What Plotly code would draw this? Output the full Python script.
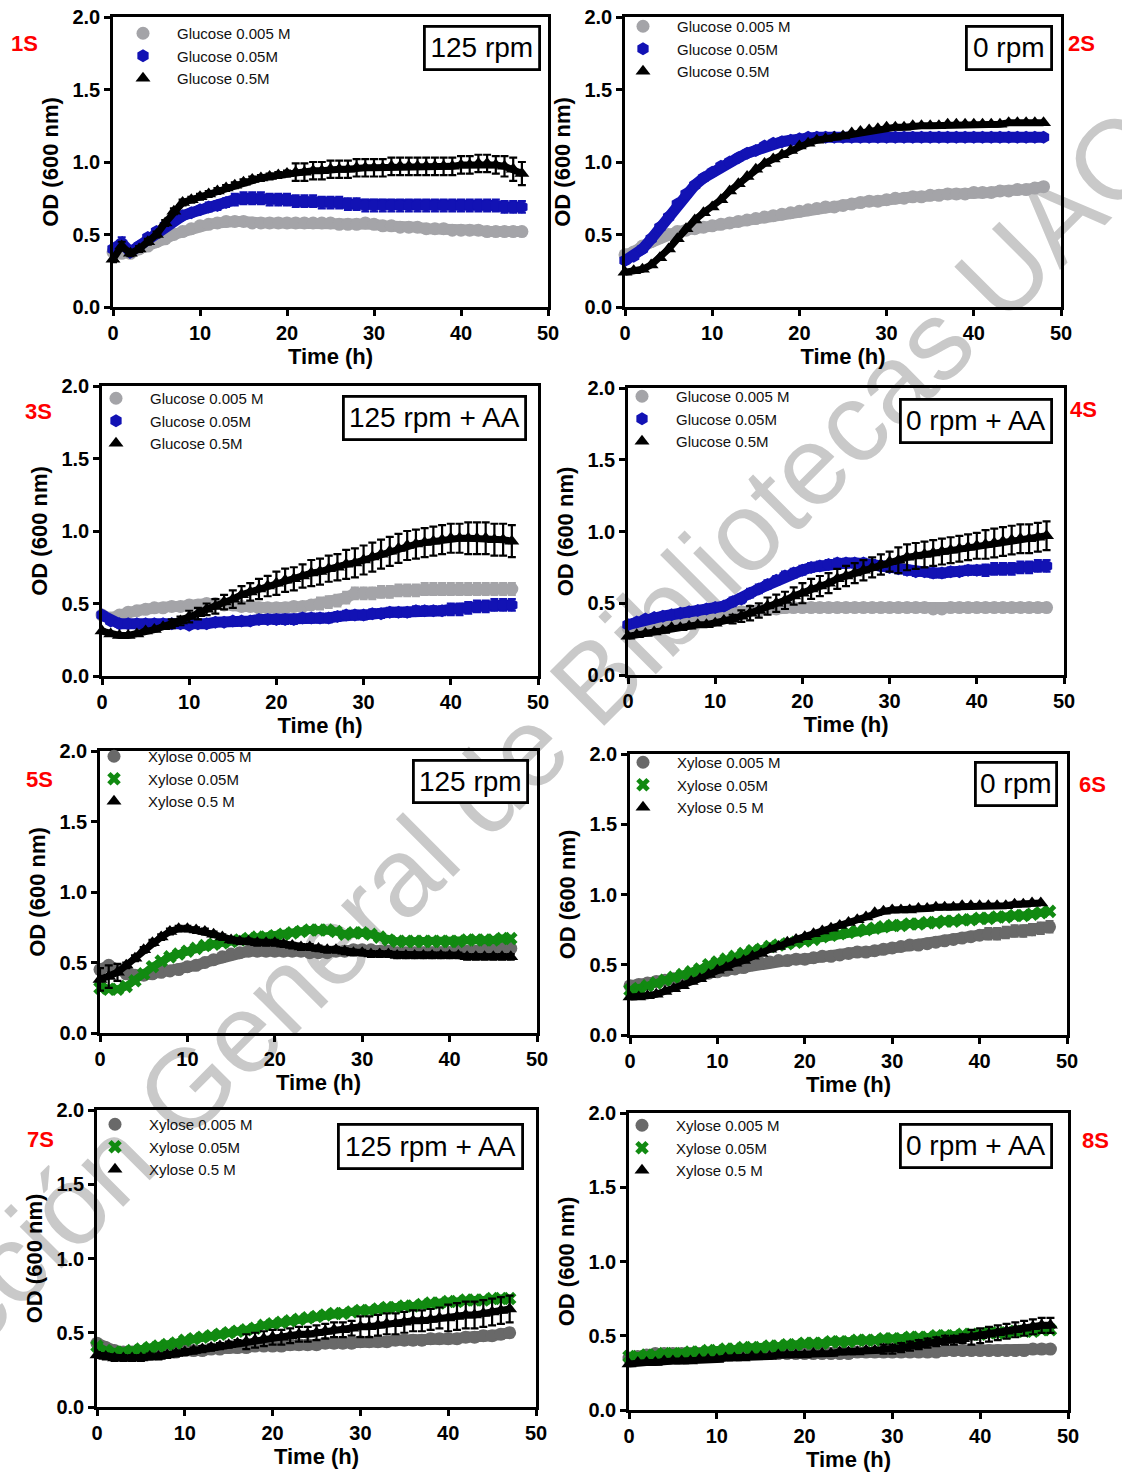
import plotly.graph_objects as go

# ---------------- data ----------------
TIME_L = [0, 1, 2, 3, 4, 5, 6, 7, 8, 9, 10, 11, 12, 13, 14, 15, 16, 17, 18, 19, 20, 21, 22, 23,
          24, 25, 26, 27, 28, 29, 30, 31, 32, 33, 34, 35, 36, 37, 38, 39, 40, 41, 42, 43, 44, 45, 46, 47]
TIME_R = [0, 1, 2, 3, 4, 5, 6, 7, 8, 9, 10, 11, 12, 13, 14, 15, 16, 17, 18, 19, 20, 21, 22, 23,
          24, 25, 26, 27, 28, 29, 30, 31, 32, 33, 34, 35, 36, 37, 38, 39, 40, 41, 42, 43, 44, 45, 46, 47, 48]

GLU_NAMES = ["Glucose 0.005 M", "Glucose 0.05M", "Glucose 0.5M"]
XYL_NAMES = ["Xylose 0.005 M", "Xylose 0.05M", "Xylose 0.5 M"]
CONDITIONS = ["125 rpm", "0 rpm", "125 rpm + AA", "0 rpm + AA",
              "125 rpm", "0 rpm", "125 rpm + AA", "0 rpm + AA"]
TAGS = ["1S", "2S", "3S", "4S", "5S", "6S", "7S", "8S"]
X_TICKS = [0, 10, 20, 30, 40, 50]
Y_TICKS = [0.0, 0.5, 1.0, 1.5, 2.0]
WATERMARK = "Dirección General de Bibliotecas UAQ"

# 1S
S1_LOW = [0.38,0.37,0.37,0.40,0.42,0.45,0.47,0.50,0.52,0.54, 0.56,0.57,0.58,0.59,0.59,0.59,0.58,0.58,0.58,0.58,
          0.58,0.58,0.58,0.58,0.58,0.58,0.57,0.57,0.57,0.58, 0.57,0.56,0.56,0.55,0.55,0.55,0.54,0.54,0.54,0.53,
          0.53,0.53,0.53,0.52,0.52,0.52,0.52,0.52]
S1_MID = [0.40,0.44,0.38,0.42,0.48,0.52,0.56,0.60,0.63,0.65, 0.67,0.69,0.70,0.72,0.74,0.75,0.75,0.75,0.74,0.74,
          0.74,0.73,0.73,0.73,0.72,0.72,0.72,0.71,0.71,0.70, 0.70,0.70,0.70,0.70,0.70,0.70,0.70,0.70,0.70,0.70,
          0.70,0.70,0.70,0.70,0.70,0.69,0.69,0.69]
S1_MID_ERR = [0.02,0.04,0.02,0.02,0.02,0.02,0.02,0.02,0.02,0.02, 0.02,0.03,0.03,0.03,0.04,0.04,0.04,0.04,0.04,0.04,
              0.04,0.04,0.04,0.04,0.04,0.04,0.04,0.04,0.04,0.04, 0.04,0.04,0.04,0.04,0.04,0.04,0.04,0.04,0.04,0.04,
              0.04,0.04,0.04,0.04,0.04,0.04,0.04,0.04]
S1_HIGH = [0.33,0.42,0.37,0.40,0.45,0.50,0.58,0.66,0.72,0.74, 0.76,0.78,0.80,0.82,0.84,0.86,0.88,0.89,0.90,0.91,
           0.92,0.93,0.93,0.94,0.94,0.95,0.95,0.95,0.96,0.96, 0.96,0.96,0.97,0.97,0.97,0.97,0.97,0.97,0.97,0.97,
           0.98,0.98,0.99,0.99,0.98,0.97,0.95,0.92]
S1_HIGH_ERR = [0.02,0.03,0.02,0.02,0.02,0.02,0.02,0.02,0.02,0.02, 0.02,0.02,0.02,0.02,0.02,0.02,0.02,0.02,0.02,0.02,
               0.02,0.06,0.06,0.06,0.06,0.06,0.06,0.06,0.06,0.06, 0.06,0.06,0.06,0.06,0.06,0.06,0.06,0.06,0.06,0.06,
               0.06,0.06,0.06,0.06,0.06,0.07,0.08,0.08]

# 2S
S2_LOW = [0.36,0.38,0.42,0.45,0.48,0.50,0.52,0.53,0.54,0.55, 0.56,0.57,0.58,0.59,0.60,0.61,0.62,0.63,0.64,0.65,
          0.66,0.67,0.68,0.69,0.69,0.70,0.71,0.72,0.73,0.73, 0.74,0.75,0.75,0.76,0.76,0.77,0.77,0.78,0.78,0.78,
          0.79,0.79,0.79,0.80,0.80,0.81,0.81,0.82,0.83]
S2_MID = [0.32,0.35,0.40,0.47,0.55,0.62,0.71,0.78,0.84,0.89, 0.93,0.97,1.00,1.03,1.06,1.08,1.11,1.13,1.14,1.15,
          1.16,1.17,1.17,1.17,1.17,1.17,1.17,1.17,1.17,1.17, 1.17,1.17,1.17,1.17,1.17,1.17,1.17,1.17,1.17,1.17,
          1.17,1.17,1.17,1.17,1.17,1.17,1.17,1.17,1.17]
S2_HIGH = [0.24,0.25,0.26,0.29,0.34,0.40,0.47,0.54,0.60,0.65, 0.69,0.74,0.80,0.85,0.90,0.95,0.99,1.02,1.05,1.08,
           1.11,1.13,1.15,1.16,1.17,1.18,1.20,1.21,1.22,1.23, 1.24,1.24,1.24,1.25,1.25,1.25,1.25,1.26,1.26,1.26,
           1.26,1.26,1.26,1.26,1.27,1.27,1.27,1.27,1.27]

# 3S
S3_LOW = [0.42,0.40,0.42,0.44,0.45,0.46,0.47,0.47,0.48,0.48, 0.49,0.49,0.50,0.50,0.49,0.49,0.48,0.48,0.47,0.47,
          0.47,0.47,0.48,0.48,0.49,0.50,0.51,0.52,0.54,0.57, 0.57,0.57,0.58,0.58,0.59,0.59,0.59,0.60,0.60,0.60,
          0.60,0.60,0.60,0.60,0.60,0.60,0.60,0.60]
S3_LOW_ERR = [0.02,0.02,0.02,0.02,0.02,0.02,0.02,0.02,0.02,0.02, 0.02,0.02,0.02,0.02,0.02,0.02,0.02,0.02,0.02,0.02,
              0.02,0.02,0.02,0.02,0.02,0.04,0.04,0.04,0.04,0.04, 0.04,0.04,0.04,0.04,0.04,0.04,0.04,0.04,0.04,0.04,
              0.04,0.04,0.04,0.04,0.04,0.04,0.04,0.04]
S3_MID = [0.42,0.38,0.36,0.36,0.36,0.36,0.36,0.36,0.36,0.36, 0.35,0.36,0.36,0.37,0.37,0.38,0.38,0.38,0.39,0.39,
          0.39,0.39,0.39,0.40,0.40,0.40,0.40,0.41,0.42,0.42, 0.42,0.43,0.43,0.44,0.44,0.44,0.45,0.45,0.45,0.45,
          0.46,0.46,0.47,0.48,0.48,0.49,0.49,0.49]
S3_MID_ERR = [0.02,0.02,0.02,0.02,0.02,0.02,0.02,0.02,0.02,0.02, 0.02,0.02,0.02,0.02,0.02,0.02,0.02,0.02,0.02,0.02,
              0.03,0.03,0.03,0.03,0.03,0.03,0.03,0.03,0.03,0.03, 0.03,0.03,0.03,0.03,0.03,0.03,0.03,0.03,0.03,0.03,
              0.04,0.04,0.04,0.04,0.04,0.04,0.04,0.04]
S3_HIGH = [0.31,0.29,0.28,0.28,0.29,0.31,0.32,0.34,0.36,0.38, 0.41,0.43,0.46,0.48,0.51,0.53,0.56,0.58,0.60,0.62,
           0.64,0.66,0.67,0.69,0.71,0.72,0.74,0.75,0.77,0.78, 0.80,0.82,0.84,0.86,0.88,0.90,0.91,0.92,0.93,0.94,
           0.95,0.95,0.95,0.95,0.95,0.94,0.94,0.93]
S3_HIGH_ERR = [0.01,0.01,0.01,0.01,0.01,0.01,0.01,0.01,0.03,0.03, 0.04,0.04,0.04,0.05,0.05,0.06,0.06,0.06,0.07,0.07,
               0.08,0.08,0.08,0.08,0.09,0.09,0.09,0.09,0.10,0.10, 0.10,0.10,0.10,0.10,0.10,0.10,0.10,0.10,0.10,0.10,
               0.10,0.10,0.11,0.11,0.11,0.11,0.11,0.11]

# 4S
S4_LOW = [0.33,0.35,0.36,0.37,0.37,0.38,0.38,0.39,0.40,0.41, 0.42,0.43,0.44,0.44,0.45,0.45,0.46,0.46,0.47,0.47,
          0.47,0.47,0.47,0.47,0.47,0.47,0.47,0.47,0.47,0.47, 0.47,0.47,0.47,0.47,0.47,0.46,0.46,0.47,0.47,0.47,
          0.47,0.47,0.47,0.47,0.47,0.47,0.47,0.47,0.47]
S4_MID = [0.35,0.37,0.39,0.40,0.41,0.42,0.43,0.44,0.45,0.46, 0.47,0.48,0.51,0.53,0.57,0.60,0.63,0.66,0.69,0.71,
          0.73,0.75,0.76,0.77,0.78,0.78,0.78,0.78,0.77,0.76, 0.75,0.74,0.73,0.72,0.72,0.71,0.71,0.72,0.72,0.73,
          0.73,0.73,0.74,0.74,0.74,0.75,0.75,0.76,0.76]
S4_MID_ERR = [0.02,0.02,0.02,0.02,0.02,0.02,0.02,0.02,0.02,0.02, 0.02,0.02,0.03,0.03,0.03,0.03,0.03,0.03,0.03,0.03,
              0.03,0.03,0.03,0.03,0.03,0.03,0.03,0.03,0.03,0.03, 0.03,0.03,0.03,0.03,0.03,0.03,0.03,0.03,0.03,0.03,
              0.03,0.04,0.04,0.04,0.04,0.04,0.04,0.04,0.04]
S4_HIGH = [0.27,0.28,0.29,0.30,0.31,0.33,0.33,0.34,0.35,0.35, 0.36,0.38,0.39,0.41,0.43,0.45,0.48,0.50,0.52,0.55,
           0.57,0.60,0.62,0.64,0.67,0.69,0.71,0.73,0.75,0.77, 0.79,0.80,0.82,0.83,0.84,0.85,0.86,0.87,0.88,0.89,
           0.90,0.91,0.92,0.93,0.94,0.95,0.95,0.96,0.97]
S4_HIGH_ERR = [0.01,0.01,0.01,0.01,0.01,0.01,0.01,0.01,0.01,0.01, 0.01,0.01,0.03,0.04,0.05,0.05,0.06,0.06,0.06,0.06,
               0.07,0.07,0.07,0.07,0.07,0.07,0.07,0.07,0.07,0.07, 0.07,0.09,0.09,0.09,0.09,0.09,0.09,0.09,0.09,0.09,
               0.09,0.10,0.10,0.10,0.10,0.10,0.10,0.10,0.10]

# 5S
S5_LOW = [0.45,0.48,0.45,0.42,0.41,0.41,0.42,0.43,0.44,0.45, 0.47,0.48,0.50,0.52,0.54,0.56,0.57,0.58,0.58,0.58,
          0.58,0.58,0.58,0.58,0.57,0.57,0.57,0.58,0.58,0.59, 0.59,0.59,0.58,0.58,0.57,0.57,0.57,0.57,0.57,0.57,
          0.57,0.58,0.58,0.58,0.59,0.59,0.60,0.60]
S5_MID = [0.32,0.31,0.31,0.33,0.37,0.42,0.47,0.51,0.54,0.56, 0.58,0.60,0.62,0.63,0.64,0.65,0.66,0.67,0.68,0.68,
          0.69,0.70,0.71,0.72,0.73,0.73,0.73,0.72,0.70,0.71, 0.71,0.70,0.68,0.66,0.65,0.65,0.65,0.65,0.65,0.65,
          0.65,0.65,0.66,0.66,0.66,0.66,0.67,0.67]
S5_HIGH = [0.38,0.40,0.43,0.48,0.53,0.59,0.64,0.68,0.72,0.74, 0.74,0.73,0.72,0.70,0.68,0.66,0.65,0.65,0.64,0.64,
           0.64,0.63,0.62,0.61,0.61,0.60,0.59,0.59,0.58,0.57, 0.57,0.56,0.56,0.56,0.55,0.55,0.55,0.55,0.55,0.55,
           0.55,0.55,0.54,0.54,0.54,0.54,0.54,0.54]
S5_HIGH_ERR = [0.08,0.08,0.06,0.02,0.02,0.02,0.02,0.02,0.02,0.02, 0.02,0.02,0.02,0.02,0.02,0.02,0.02,0.02,0.02,0.02,
               0.02,0.02,0.02,0.02,0.02,0.02,0.02,0.02,0.02,0.02, 0.02,0.02,0.02,0.02,0.02,0.02,0.02,0.02,0.02,0.02,
               0.02,0.02,0.02,0.02,0.02,0.02,0.02,0.02]

# 6S
S6_LOW = [0.35,0.36,0.37,0.38,0.39,0.40,0.41,0.42,0.43,0.44, 0.45,0.46,0.47,0.48,0.50,0.51,0.52,0.53,0.53,0.54,
          0.54,0.55,0.56,0.56,0.57,0.58,0.59,0.59,0.60,0.61, 0.62,0.63,0.64,0.64,0.65,0.66,0.67,0.68,0.69,0.70,
          0.71,0.72,0.72,0.73,0.74,0.74,0.75,0.76,0.77]
S6_LOW_ERR = [0.02,0.02,0.02,0.02,0.02,0.02,0.02,0.02,0.02,0.02, 0.02,0.02,0.02,0.02,0.02,0.02,0.02,0.02,0.02,0.02,
              0.02,0.02,0.02,0.02,0.02,0.02,0.02,0.02,0.02,0.02, 0.02,0.02,0.02,0.02,0.02,0.02,0.02,0.02,0.02,0.02,
              0.02,0.04,0.04,0.04,0.04,0.04,0.04,0.04,0.04]
S6_MID = [0.32,0.33,0.35,0.37,0.39,0.41,0.43,0.45,0.47,0.50, 0.52,0.54,0.56,0.58,0.60,0.61,0.63,0.64,0.65,0.66,
          0.67,0.68,0.70,0.71,0.72,0.73,0.74,0.75,0.76,0.77, 0.78,0.78,0.79,0.79,0.80,0.80,0.81,0.81,0.82,0.82,
          0.83,0.83,0.84,0.84,0.85,0.85,0.86,0.87,0.88]
S6_HIGH = [0.27,0.27,0.28,0.29,0.31,0.33,0.35,0.38,0.40,0.43, 0.46,0.48,0.51,0.53,0.56,0.58,0.61,0.63,0.66,0.68,
           0.70,0.72,0.74,0.76,0.78,0.80,0.82,0.84,0.87,0.88, 0.89,0.89,0.89,0.90,0.90,0.91,0.91,0.91,0.92,0.92,
           0.92,0.92,0.92,0.92,0.93,0.93,0.94,0.94]

# 7S
S7_LOW = [0.43,0.40,0.38,0.37,0.37,0.37,0.37,0.37,0.37,0.37, 0.38,0.38,0.38,0.39,0.39,0.40,0.40,0.40,0.41,0.41,
          0.41,0.41,0.42,0.42,0.42,0.42,0.43,0.43,0.43,0.43, 0.44,0.44,0.44,0.44,0.45,0.45,0.45,0.45,0.46,0.46,
          0.46,0.46,0.47,0.47,0.48,0.48,0.49,0.50]
S7_LOW_ERR = [0.02,0.02,0.02,0.02,0.02,0.02,0.02,0.02,0.02,0.02, 0.02,0.02,0.02,0.02,0.02,0.02,0.02,0.02,0.02,0.02,
              0.03,0.03,0.03,0.03,0.03,0.03,0.03,0.03,0.03,0.03, 0.03,0.03,0.03,0.03,0.03,0.03,0.03,0.03,0.03,0.03,
              0.03,0.03,0.03,0.03,0.03,0.03,0.03,0.03]
S7_MID = [0.41,0.38,0.37,0.37,0.38,0.39,0.40,0.41,0.42,0.43, 0.45,0.46,0.47,0.48,0.49,0.50,0.51,0.52,0.53,0.55,
          0.56,0.57,0.58,0.59,0.60,0.61,0.62,0.63,0.63,0.64, 0.65,0.65,0.66,0.67,0.67,0.68,0.68,0.69,0.70,0.70,
          0.71,0.71,0.72,0.72,0.72,0.73,0.73,0.73]
S7_HIGH = [0.35,0.34,0.33,0.33,0.33,0.33,0.34,0.34,0.35,0.36, 0.37,0.38,0.39,0.40,0.41,0.42,0.43,0.44,0.45,0.46,
           0.47,0.47,0.48,0.49,0.49,0.50,0.51,0.52,0.52,0.53, 0.54,0.54,0.55,0.56,0.56,0.57,0.58,0.58,0.59,0.60,
           0.60,0.61,0.62,0.62,0.63,0.64,0.65,0.66]
S7_HIGH_ERR = [0.02,0.02,0.02,0.02,0.02,0.02,0.02,0.02,0.02,0.02, 0.02,0.02,0.02,0.02,0.02,0.02,0.02,0.05,0.05,0.05,
               0.05,0.05,0.05,0.05,0.05,0.05,0.05,0.05,0.05,0.05, 0.07,0.07,0.07,0.07,0.07,0.07,0.07,0.07,0.07,0.07,
               0.09,0.09,0.09,0.09,0.09,0.09,0.09,0.09]

# 8S
S8_LOW = [0.35,0.36,0.37,0.38,0.38,0.38,0.38,0.38,0.38,0.38, 0.38,0.38,0.38,0.38,0.38,0.38,0.38,0.38,0.38,0.38,
          0.38,0.38,0.38,0.38,0.38,0.38,0.39,0.39,0.39,0.39, 0.39,0.39,0.39,0.39,0.39,0.39,0.40,0.40,0.40,0.40,
          0.40,0.40,0.40,0.40,0.40,0.40,0.41,0.41,0.41]
S8_MID = [0.36,0.36,0.37,0.37,0.38,0.38,0.38,0.39,0.39,0.40, 0.40,0.41,0.41,0.42,0.42,0.42,0.43,0.43,0.44,0.44,
          0.45,0.45,0.45,0.46,0.46,0.46,0.47,0.47,0.47,0.48, 0.48,0.48,0.49,0.49,0.49,0.50,0.50,0.50,0.51,0.51,
          0.51,0.52,0.52,0.52,0.53,0.53,0.53,0.54,0.54]
S8_HIGH = [0.31,0.32,0.32,0.32,0.33,0.33,0.33,0.33,0.34,0.34, 0.34,0.35,0.35,0.35,0.36,0.36,0.36,0.37,0.37,0.37,
           0.37,0.38,0.38,0.38,0.39,0.39,0.39,0.40,0.40,0.41, 0.41,0.42,0.43,0.44,0.45,0.46,0.47,0.47,0.48,0.49,
           0.50,0.51,0.52,0.53,0.54,0.55,0.56,0.57,0.57]
S8_HIGH_ERR = [0.01,0.01,0.01,0.01,0.01,0.01,0.01,0.01,0.01,0.01, 0.01,0.01,0.01,0.01,0.01,0.01,0.01,0.01,0.01,0.01,
               0.01,0.01,0.01,0.01,0.01,0.01,0.01,0.01,0.01,0.03, 0.03,0.03,0.03,0.03,0.03,0.03,0.03,0.03,0.03,0.05,
               0.05,0.05,0.05,0.05,0.05,0.05,0.05,0.05,0.05]

# ---------------- styling / layout ----------------
W, H = 1122, 1481
FONT = "Liberation Sans, Arial, sans-serif"
GRAY_L, BLUE, BLACK = "#a4a4a8", "#1212b4", "#000000"
GRAY_D, GREEN = "#696969", "#118a11"

# panel geometry in px: (x at 0 h, x at 50 h, y at 2.0, y at 0.0)
GEOM = [(113, 548, 17, 307), (625, 1061, 17, 307),
        (102, 538, 386, 676), (628, 1064, 388, 675),
        (100, 537, 751, 1033), (630, 1067, 754, 1035),
        (97, 536, 1110, 1407), (629, 1068, 1113, 1410)]
# condition box (x0, x1, y0, y1) px
BOXES = [(424, 540, 26, 70), (966, 1052, 26, 70), (343, 526, 396, 440), (900, 1052, 399, 443),
         (413, 528, 760, 803), (975, 1057, 762, 806), (338, 523, 1124, 1169), (900, 1052, 1124, 1168)]
# tag centers px
TAG_POS = [(24, 44), (1081, 44), (38, 411), (1083, 410), (39, 779), (1092, 784), (40, 1139), (1095, 1140)]
# legend: (marker x, middle-row y) px
LEG_POS = [(143, 56), (643, 49), (116, 421), (642, 419), (114, 779), (643, 785), (115, 1147), (642, 1148)]

PANELS = [
    (TIME_L, [(S1_LOW, None), (S1_MID, S1_MID_ERR), (S1_HIGH, S1_HIGH_ERR)], "glu"),
    (TIME_R, [(S2_LOW, None), (S2_MID, None), (S2_HIGH, None)], "glu"),
    (TIME_L, [(S3_LOW, S3_LOW_ERR), (S3_MID, S3_MID_ERR), (S3_HIGH, S3_HIGH_ERR)], "glu"),
    (TIME_R, [(S4_LOW, None), (S4_MID, S4_MID_ERR), (S4_HIGH, S4_HIGH_ERR)], "glu"),
    (TIME_L, [(S5_LOW, None), (S5_MID, None), (S5_HIGH, S5_HIGH_ERR)], "xyl"),
    (TIME_R, [(S6_LOW, S6_LOW_ERR), (S6_MID, None), (S6_HIGH, None)], "xyl"),
    (TIME_L, [(S7_LOW, S7_LOW_ERR), (S7_MID, None), (S7_HIGH, S7_HIGH_ERR)], "xyl"),
    (TIME_R, [(S8_LOW, None), (S8_MID, None), (S8_HIGH, S8_HIGH_ERR)], "xyl"),
]

STYLE = {
    "glu": dict(names=GLU_NAMES, colors=[GRAY_L, BLUE, BLACK],
                symbols=["circle", "hexagon", "triangle-up"], sizes=[13, 13, 13], lw=[11, 11, 7]),
    "xyl": dict(names=XYL_NAMES, colors=[GRAY_D, GREEN, BLACK],
                symbols=["circle", "x", "triangle-up"], sizes=[13, 12, 13], lw=[11, 8, 7]),
}

fig = go.Figure()
layout = dict(width=W, height=H, margin=dict(l=0, r=0, t=0, b=0, autoexpand=False),
              paper_bgcolor="white", plot_bgcolor="rgba(0,0,0,0)", showlegend=True,
              annotations=[], shapes=[])

tickfont = dict(family=FONT, size=20, color="black", weight="bold")
titlefont = dict(family=FONT, size=22, color="black", weight="bold")

for i, (times, series, kind) in enumerate(PANELS):
    n = i + 1
    sfx = "" if n == 1 else str(n)
    xa, ya = "x" + sfx, "y" + sfx
    leg = "legend" + sfx
    st = STYLE[kind]
    for k, (vals, err) in enumerate(series):
        t = times if len(vals) == len(times) else TIME_L
        # continuous band underneath the dense markers
        fig.add_trace(go.Scatter(
            x=t, y=vals, mode="lines", xaxis=xa, yaxis=ya, showlegend=False, hoverinfo="skip",
            line=dict(color=st["colors"][k], width=st["lw"][k])))
        tr = go.Scatter(
            x=t, y=vals, mode="markers", name=st["names"][k], xaxis=xa, yaxis=ya,
            legend=leg, cliponaxis=False,
            marker=dict(symbol=st["symbols"][k], size=st["sizes"][k], color=st["colors"][k],
                        line=dict(width=0)),
        )
        if err is not None:
            tr.error_y = dict(type="data", array=err, visible=True, color=st["colors"][k],
                              thickness=2.2, width=4)
        fig.add_trace(tr)

    x0, x1, yt, yb = GEOM[i]
    common = dict(showline=True, linecolor="black", linewidth=2.6, mirror=True,
                  ticks="outside", ticklen=6, tickwidth=2.6, tickcolor="black",
                  showgrid=False, zeroline=False, tickfont=tickfont, fixedrange=True,
                  automargin=False)
    layout["xaxis" + sfx] = dict(common, domain=[x0 / W, x1 / W], anchor=ya, range=[0, 50],
                                 tickmode="array", tickvals=X_TICKS,
                                 title=dict(text="Time (h)", font=titlefont, standoff=6))
    layout["yaxis" + sfx] = dict(common, domain=[1 - yb / H, 1 - yt / H], anchor=xa, range=[0, 2],
                                 tickmode="array", tickvals=Y_TICKS, tickformat=".1f",
                                 title=dict(text="OD (600 nm)", font=titlefont, standoff=8))
    lx, ly = LEG_POS[i]
    layout[leg] = dict(x=(lx - 34) / W, y=1 - ly / H, xanchor="left", yanchor="middle",
                       xref="paper", yref="paper", bgcolor="rgba(0,0,0,0)", borderwidth=0,
                       itemwidth=58, font=dict(family=FONT, size=15, color="#111111"),
                       tracegroupgap=0)

    bx0, bx1, by0, by1 = BOXES[i]
    layout["annotations"].append(dict(
        text=CONDITIONS[i], xref="paper", yref="paper", x=(bx0 + bx1) / 2 / W,
        y=1 - (by0 + by1) / 2 / H, xanchor="center", yanchor="middle", showarrow=False,
        width=bx1 - bx0 - 4, height=by1 - by0 - 4, borderpad=0, bordercolor="black",
        borderwidth=2.8, bgcolor="white", font=dict(family=FONT, size=28, color="black")))
    tx, ty = TAG_POS[i]
    layout["annotations"].append(dict(
        text=TAGS[i], xref="paper", yref="paper", x=tx / W, y=1 - ty / H,
        xanchor="center", yanchor="middle", showarrow=False,
        font=dict(family=FONT, size=22, color="#ff0000", weight="bold")))

# watermark drawn beneath the data, as the label of an invisible diagonal guide
WM_CX, WM_CY, WM_HALF = 468, 792, 200
layout["shapes"].append(dict(
    type="line", xref="paper", yref="paper", layer="below",
    x0=(WM_CX - WM_HALF) / W, y0=1 - (WM_CY + WM_HALF) / H,
    x1=(WM_CX + WM_HALF) / W, y1=1 - (WM_CY - WM_HALF) / H,
    line=dict(color="rgba(0,0,0,0)", width=0),
    label=dict(text=WATERMARK, textposition="middle", textangle=-45,
               xanchor="center", yanchor="middle", padding=0,
               font=dict(family=FONT, size=112, color="#c9c9c9"))))

fig.update_layout(**layout)
fig.write_html("out.html",
               post_script="document.body.style.margin='0px';document.body.style.padding='0px';")
